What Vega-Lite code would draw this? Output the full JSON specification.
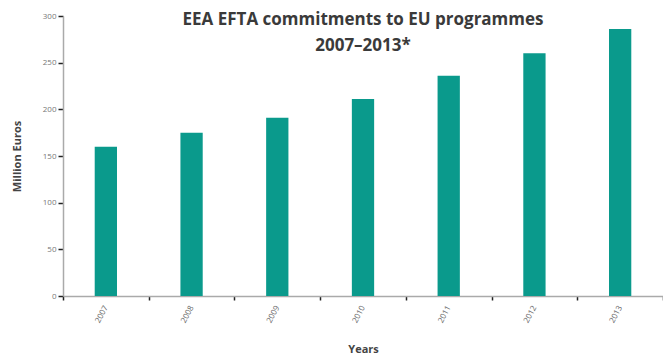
{
  "$schema": "https://vega.github.io/schema/vega-lite/v6.json",
  "autosize": "none",
  "width": 600,
  "height": 280,
  "padding": {"left": 63, "top": 16, "right": 0, "bottom": 63},
  "background": "white",
  "title": {
    "text": ["EEA EFTA commitments to EU programmes", "2007–2013*"],
    "anchor": "middle",
    "frame": "group",
    "orient": "top",
    "offset": -43,
    "font": "Open Sans",
    "fontSize": 17,
    "fontWeight": "bold",
    "color": "#3a3a3a",
    "lineHeight": 26
  },
  "data": {
    "values": [
      {"year": "2007", "value": 160},
      {"year": "2008", "value": 175},
      {"year": "2009", "value": 191},
      {"year": "2010", "value": 211},
      {"year": "2011", "value": 236},
      {"year": "2012", "value": 260},
      {"year": "2013", "value": 286}
    ]
  },
  "mark": {"type": "bar", "color": "#0a9a8c", "width": {"band": 0.26}},
  "encoding": {
    "x": {
      "field": "year",
      "type": "ordinal",
      "scale": {"paddingInner": 0, "paddingOuter": 0},
      "axis": {
        "title": "Years",
        "titleFont": "Open Sans",
        "titleFontSize": 11,
        "titleFontWeight": "bold",
        "titleColor": "#444",
        "titlePadding": 19,
        "labelAngle": -62,
        "labelFont": "Open Sans",
        "labelFontSize": 8,
        "labelColor": "#666",
        "labelPadding": 6,
        "tickBand": "extent",
        "tickColor": "#222",
        "tickSize": 4,
        "tickWidth": 1.5,
        "domainColor": "#aaa",
        "domainWidth": 1.5
      }
    },
    "y": {
      "field": "value",
      "type": "quantitative",
      "scale": {"domain": [0, 300]},
      "axis": {
        "title": "Million Euros",
        "titleFont": "Open Sans",
        "titleFontSize": 11,
        "titleFontWeight": "bold",
        "titleColor": "#444",
        "titlePadding": 20,
        "values": [0, 50, 100, 150, 200, 250, 300],
        "grid": false,
        "labelFont": "Open Sans",
        "labelFontSize": 8,
        "labelColor": "#777",
        "labelPadding": 2,
        "tickColor": "#222",
        "tickSize": 5,
        "tickWidth": 1.5,
        "domainColor": "#aaa",
        "domainWidth": 1.5
      }
    }
  },
  "config": {"view": {"stroke": null}}
}
